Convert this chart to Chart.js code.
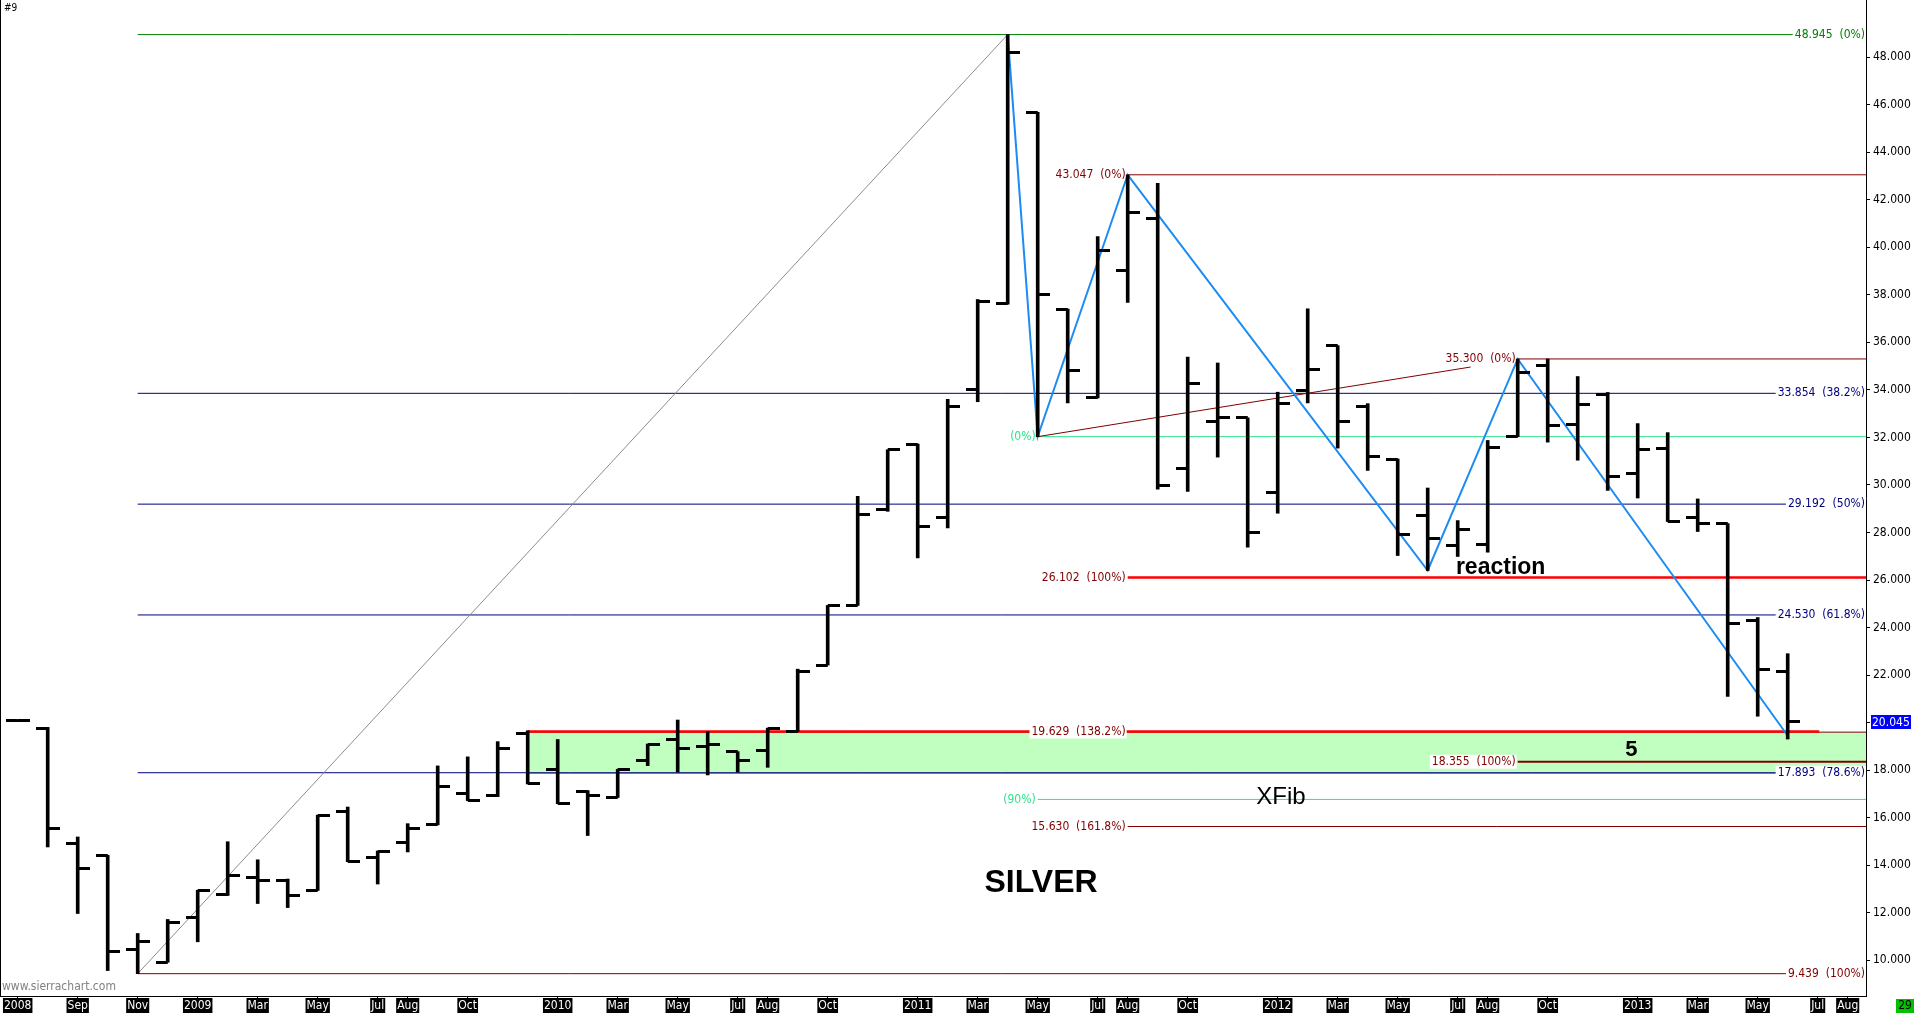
<!DOCTYPE html>
<html>
<head>
<meta charset="utf-8">
<title>Silver monthly - XFib</title>
<script src="https://cdn.jsdelivr.net/npm/chart.js@4.4.1/dist/chart.umd.min.js"></script>
<style>
    html, body { margin: 0; padding: 0; background: #fff; overflow: hidden; }
    #wrap { width: 1916px; height: 1013px; }
</style>
</head>
<body>
<div id="wrap"><canvas id="chart" width="1916" height="1013"></canvas></div>
<script>
// monthly bars, index 0 = Jul 2008
const months = [
    "Jul 2008", "Aug 2008", "Sep 2008", "Oct 2008", "Nov 2008", "Dec 2008",
    "Jan 2009", "Feb 2009", "Mar 2009", "Apr 2009", "May 2009", "Jun 2009",
    "Jul 2009", "Aug 2009", "Sep 2009", "Oct 2009", "Nov 2009", "Dec 2009",
    "Jan 2010", "Feb 2010", "Mar 2010", "Apr 2010", "May 2010", "Jun 2010",
    "Jul 2010", "Aug 2010", "Sep 2010", "Oct 2010", "Nov 2010", "Dec 2010",
    "Jan 2011", "Feb 2011", "Mar 2011", "Apr 2011", "May 2011", "Jun 2011",
    "Jul 2011", "Aug 2011", "Sep 2011", "Oct 2011", "Nov 2011", "Dec 2011",
    "Jan 2012", "Feb 2012", "Mar 2012", "Apr 2012", "May 2012", "Jun 2012",
    "Jul 2012", "Aug 2012", "Sep 2012", "Oct 2012", "Nov 2012", "Dec 2012",
    "Jan 2013", "Feb 2013", "Mar 2013", "Apr 2013", "May 2013", "Jun 2013"
];

const opens = [
    20.07, 19.77, 14.92, 14.42, 10.46, 9.92,
    11.79, 12.78, 13.48, 13.37, 12.94, 16.25,
    14.32, 14.95, 15.70, 17.01, 16.92, 19.56,
    18.03, 17.10, 16.85, 18.40, 19.31, 19.00,
    18.78, 18.82, 19.64, 22.42, 24.93, 28.96,
    31.72, 28.61, 34.00, 37.65, 45.67, 37.40,
    33.66, 39.02, 41.22, 30.67, 32.65, 32.82,
    29.70, 33.97, 35.86, 33.28, 31.09, 28.70,
    27.44, 27.49, 32.04, 35.04, 32.54, 33.82,
    30.46, 31.52, 28.61, 28.37, 24.31, 22.15
];
const highs = [
    20.10, 19.80, 15.19, 14.42, 11.13, 11.72,
    12.95, 14.99, 14.23, 13.42, 16.11, 16.45,
    14.60, 15.75, 18.18, 18.56, 19.20, 19.66,
    19.29, 17.14, 18.04, 19.10, 20.11, 19.62,
    18.78, 19.77, 22.25, 24.93, 29.52, 31.48,
    31.72, 33.60, 37.80, 48.945, 45.67, 37.40,
    40.45, 43.047, 42.69, 35.38, 35.13, 32.82,
    33.90, 37.41, 35.86, 33.42, 31.09, 29.87,
    28.50, 31.87, 35.30, 35.30, 34.56, 33.89,
    32.58, 32.20, 29.41, 28.37, 24.42, 22.90
];
const lows = [
    20.05, 14.77, 11.97, 9.57, 9.439, 9.92,
    10.78, 12.73, 12.39, 12.22, 12.94, 14.15,
    13.21, 14.56, 15.70, 16.72, 16.89, 17.42,
    16.59, 15.25, 16.85, 18.19, 17.92, 17.80,
    17.92, 18.12, 19.63, 22.42, 24.93, 28.89,
    26.93, 28.19, 33.50, 37.60, 32.03, 33.45,
    33.66, 37.68, 29.82, 29.73, 31.17, 27.38,
    28.81, 33.45, 31.55, 30.61, 27.03, 26.40,
    26.99, 27.17, 32.03, 31.80, 31.04, 29.77,
    29.45, 28.46, 28.04, 21.10, 20.27, 19.31
];
const closes = [
    20.07, 15.54, 13.86, 10.36, 10.78, 11.58,
    12.92, 13.57, 13.37, 12.71, 16.11, 14.15,
    14.57, 15.56, 17.30, 16.74, 18.90, 17.42,
    16.59, 16.92, 18.04, 19.10, 18.90, 19.10,
    18.40, 19.77, 22.15, 24.93, 28.75, 31.48,
    28.26, 33.30, 37.70, 48.20, 38.03, 34.82,
    39.85, 41.47, 29.96, 34.26, 32.82, 28.01,
    33.41, 34.84, 32.65, 31.20, 27.93, 27.76,
    28.11, 31.58, 34.74, 32.48, 33.39, 30.34,
    31.49, 28.46, 28.39, 24.17, 22.23, 20.045
];

// axis ticks
const xTickMonths = [0, 2, 4, 6, 8, 10, 12, 13, 15, 18, 20, 22, 24, 25, 27, 30, 32, 34, 36, 37, 39,
    42, 44, 46, 48, 49, 51, 54, 56, 58, 60, 61];
const xTickLabels = ["2008", "Sep", "Nov", "2009", "Mar", "May", "Jul", "Aug", "Oct",
    "2010", "Mar", "May", "Jul", "Aug", "Oct", "2011", "Mar", "May", "Jul", "Aug", "Oct",
    "2012", "Mar", "May", "Jul", "Aug", "Oct", "2013", "Mar", "May", "Jul", "Aug"];
const yTicks = [10, 12, 14, 16, 18, 20, 22, 24, 26, 28, 30, 32, 34, 36, 38, 40, 42, 44, 46, 48];

// drawing tools: swing line, trend lines, fib levels
const swingMonths = [33, 34, 37, 47, 50, 59];
const swingPrices = [48.945, 32.03, 43.047, 26.40, 35.30, 19.45];
const greyMonths = [4, 33];
const greyPrices = [9.439, 48.945];
const redTrendMonths = [34, 48.43];
const redTrendPrices = [32.03, 34.96];

const levelValues = [48.945, 43.047, 35.300, 33.854, 32.03, 29.192, 26.102, 24.530, 19.629, 18.355, 17.893, 16.77, 15.630, 9.439];
const levelFrom = [4, 37, 50, 4, 34, 4, 37, 4, 17, 50, 4, 34, 37, 4];
const levelTo = [null, null, null, null, null, null, null, null, 60.05, null, null, null, null, null];
const levelLabelAt = [null, 37, 50, null, 34, null, 37, null, 37, 50, null, 34, 37, null];
const levelText = ["48.945  (0%)", "43.047  (0%)", "35.300  (0%)", "33.854  (38.2%)", "(0%)",
    "29.192  (50%)", "26.102  (100%)", "24.530  (61.8%)", "19.629  (138.2%)", "18.355  (100%)",
    "17.893  (78.6%)", "(90%)", "15.630  (161.8%)", "9.439  (100%)"];

const zoneFrom = 17;
const zoneTop = 19.60;
const zoneBottom = 17.86;

const noteText = ["SILVER", "reaction", "5", "XFib"];
const noteMonth = [34.11, 47.94, 53.79, 42.11];
const notePrice = [13.23, 26.25, 18.87, 16.85];

// styles
const GREEN = "#008000", NAVY = "#000080", DARKRED = "#800000", RED = "#ff0000", MINT = "#2de38b";
const levelStyle = [
    { line: GREEN, width: 1, text: GREEN, bg: true },
    { line: DARKRED, width: 1, text: DARKRED, bg: false },
    { line: DARKRED, width: 1, text: DARKRED, bg: false },
    { line: NAVY, width: 1, text: NAVY, bg: true },
    { line: MINT, width: 1, text: MINT, bg: false },
    { line: NAVY, width: 1, text: NAVY, bg: true },
    { line: RED, width: 2.5, text: DARKRED, bg: false },
    { line: NAVY, width: 1, text: NAVY, bg: true },
    { line: RED, width: 2.5, text: DARKRED, bg: true },
    { line: DARKRED, width: 2, text: DARKRED, bg: true },
    { line: NAVY, width: 1, text: NAVY, bg: true },
    { line: MINT, width: 1, text: MINT, bg: false },
    { line: DARKRED, width: 1, text: DARKRED, bg: false },
    { line: DARKRED, width: 1, text: DARKRED, bg: true }
];
const noteStyle = [
    { font: "bold 32px 'Liberation Sans', Arial, sans-serif", align: "center", baseline: "middle" },
    { font: "bold 23px 'Liberation Sans', Arial, sans-serif", align: "left", baseline: "alphabetic" },
    { font: "bold 22px 'Liberation Sans', Arial, sans-serif", align: "center", baseline: "middle" },
    { font: "24px 'Liberation Sans', Arial, sans-serif", align: "center", baseline: "middle" }
];
const AXIS_FONT = "'DejaVu Sans Condensed', 'Liberation Sans Narrow', 'Liberation Sans', sans-serif";
const X_MIN = -0.59, X_MAX = 61.61;

// open tick sits left of the bar, close tick right of it
function tickImage(side) {
    const c = document.createElement("canvas");
    c.width = 24;
    c.height = 3;
    const g = c.getContext("2d");
    g.fillStyle = "#000";
    g.fillRect(side === "open" ? 0 : 12, 0, 12, 3);
    return c;
}

function hLine(v, from, to, color, width, order) {
    return {
        type: "line",
        data: [{ x: from, y: v }, { x: to, y: v }],
        borderColor: color,
        borderWidth: width,
        pointRadius: 0,
        fill: false,
        order: order
    };
}

const datasets = [
    {
        type: "bar",
        data: highs.map((h, i) => ({ x: i, y: [lows[i], h] })),
        backgroundColor: "#000",
        borderWidth: 0,
        barThickness: 3,
        order: 0
    },
    {
        type: "scatter",
        data: opens.map((o, i) => ({ x: i, y: o })),
        pointStyle: tickImage("open"),
        pointRadius: 2,
        order: 0
    },
    {
        type: "scatter",
        data: closes.map((c, i) => ({ x: i, y: c })),
        pointStyle: tickImage("close"),
        pointRadius: 2,
        order: 0
    },
    {
        type: "line",
        data: swingMonths.map((m, i) => ({ x: m, y: swingPrices[i] })),
        borderColor: "#1c8cf4",
        borderWidth: 2,
        pointRadius: 0,
        fill: false,
        order: 1
    },
    {
        type: "line",
        data: greyMonths.map((m, i) => ({ x: m, y: greyPrices[i] })),
        borderColor: "#8c8c8c",
        borderWidth: 1,
        pointRadius: 0,
        fill: false,
        order: 2
    },
    {
        type: "line",
        data: redTrendMonths.map((m, i) => ({ x: m, y: redTrendPrices[i] })),
        borderColor: DARKRED,
        borderWidth: 1,
        pointRadius: 0,
        fill: false,
        order: 2
    }
];

levelValues.forEach((v, i) => {
    const st = levelStyle[i];
    datasets.push(hLine(v, levelFrom[i], levelTo[i] === null ? X_MAX : levelTo[i], st.line, st.width, 3));
});

// green zone between the two lines
datasets.push({
    type: "line",
    data: [{ x: zoneFrom, y: zoneTop }, { x: X_MAX, y: zoneTop }],
    borderColor: DARKRED,
    borderWidth: 1,
    backgroundColor: "#c0ffc0",
    pointRadius: 0,
    fill: "+1",
    order: 9
});
datasets.push({
    type: "line",
    data: [{ x: zoneFrom, y: zoneBottom }, { x: X_MAX, y: zoneBottom }],
    borderColor: RED,
    borderWidth: 1,
    pointRadius: 0,
    fill: false,
    order: 9
});

const overlay = {
    id: "overlay",
    afterDatasetsDraw(chart) {
        const { ctx, chartArea: area, scales: { x, y } } = chart;
        ctx.save();
        ctx.font = "12px " + AXIS_FONT;
        ctx.textAlign = "right";
        ctx.textBaseline = "middle";
        levelValues.forEach((v, i) => {
            const st = levelStyle[i];
            const py = y.getPixelForValue(v);
            const px = levelLabelAt[i] === null ? area.right - 1 : x.getPixelForValue(levelLabelAt[i]) - 2;
            const w = ctx.measureText(levelText[i]).width;
            if (st.bg) {
                ctx.fillStyle = "#fff";
                ctx.fillRect(px - w - 2, py - 7, w + 3, 14);
            }
            ctx.fillStyle = st.text;
            ctx.fillText(levelText[i], px, py);
        });

        noteText.forEach((t, i) => {
            const st = noteStyle[i];
            ctx.font = st.font;
            ctx.textAlign = st.align;
            ctx.textBaseline = st.baseline;
            ctx.fillStyle = "#000";
            ctx.fillText(t, x.getPixelForValue(noteMonth[i]), y.getPixelForValue(notePrice[i]));
        });
        ctx.restore();
    },
    afterDraw(chart) {
        const { ctx, chartArea: area, scales: { y } } = chart;
        ctx.save();
        // left frame line
        ctx.strokeStyle = "#000";
        ctx.lineWidth = 1;
        ctx.beginPath();
        ctx.moveTo(0.5, 0);
        ctx.lineTo(0.5, area.bottom);
        ctx.stroke();

        // last price marker
        const last = closes[closes.length - 1];
        const py = Math.round(y.getPixelForValue(last));
        ctx.fillStyle = "#0000ff";
        ctx.fillRect(area.right + 5, py - 7, 40, 14);
        ctx.fillStyle = "#fff";
        ctx.font = "12px " + AXIS_FONT;
        ctx.textAlign = "left";
        ctx.textBaseline = "middle";
        ctx.fillText(last.toFixed(3), area.right + 6, py + 1);

        ctx.fillStyle = "#00c000";
        ctx.fillRect(1896, 999, 18, 14);
        ctx.fillStyle = "#000";
        ctx.textAlign = "center";
        ctx.fillText("29", 1905, 1006);

        ctx.font = "12px " + AXIS_FONT;
        ctx.fillStyle = "#808080";
        ctx.textAlign = "left";
        ctx.textBaseline = "bottom";
        ctx.fillText("www.sierrachart.com", 2, area.bottom - 3);

        ctx.fillStyle = "#000";
        ctx.font = "10px " + AXIS_FONT;
        ctx.textBaseline = "top";
        ctx.fillText("#9", 4, 3);
        ctx.restore();
    }
};

const chart = new Chart(document.getElementById("chart"), {
    type: "scatter",
    data: { datasets: datasets },
    plugins: [overlay],
    options: {
        responsive: false,
        animation: false,
        events: [],
        layout: { padding: 0, autoPadding: false },
        plugins: {
            legend: { display: false },
            tooltip: { enabled: false }
        },
        scales: {
            x: {
                type: "linear",
                min: X_MIN,
                max: X_MAX,
                offset: false,
                afterBuildTicks: s => { s.ticks = xTickMonths.map(v => ({ value: v })); },
                afterFit: s => {
                    s.height = 17;
                    s.paddingLeft = 0;
                    s.paddingRight = 0;
                },
                grid: { drawOnChartArea: false, tickLength: 3, color: "#000", offset: false },
                border: { display: true, color: "#000", width: 1 },
                ticks: {
                    autoSkip: false,
                    maxRotation: 0,
                    padding: 0,
                    color: "#fff",
                    font: { family: AXIS_FONT, size: 12 },
                    showLabelBackdrop: true,
                    backdropColor: "#000",
                    backdropPadding: { x: 1, y: 1 },
                    callback: (v, i) => xTickLabels[i]
                }
            },
            y: {
                type: "linear",
                position: "right",
                min: 8.50,
                max: 50.40,
                afterBuildTicks: s => { s.ticks = yTicks.map(v => ({ value: v })); },
                afterFit: s => {
                    s.width = 50;
                    s.paddingTop = 0;
                    s.paddingBottom = 0;
                },
                grid: { drawOnChartArea: false, tickLength: 4, color: "#000" },
                border: { display: true, color: "#000", width: 1 },
                ticks: {
                    color: "#000",
                    padding: 3,
                    font: { family: AXIS_FONT, size: 12 },
                    callback: v => v.toFixed(3)
                }
            }
        }
    }
});
</script>
</body>
</html>
